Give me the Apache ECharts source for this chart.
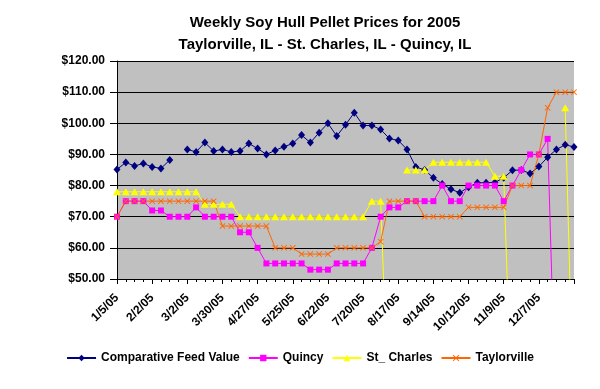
<!DOCTYPE html>
<html><head><meta charset="utf-8">
<script src="https://cdn.jsdelivr.net/npm/echarts@6/dist/echarts.min.js"></script>
<style>html,body{margin:0;padding:0;background:#fff}#c{width:600px;height:389px}</style>
</head><body><div id="c"></div>
<script>
const weeks = ['1/5/05','1/12/05','1/19/05','1/26/05','2/2/05','2/9/05','2/16/05','2/23/05',
  '3/2/05','3/9/05','3/16/05','3/23/05','3/30/05','4/6/05','4/13/05','4/20/05',
  '4/27/05','5/4/05','5/11/05','5/18/05','5/25/05','6/1/05','6/8/05','6/15/05',
  '6/22/05','6/29/05','7/6/05','7/13/05','7/20/05','7/27/05','8/3/05','8/10/05',
  '8/17/05','8/24/05','8/31/05','9/7/05','9/14/05','9/21/05','9/28/05','10/5/05',
  '10/12/05','10/19/05','10/26/05','11/2/05','11/9/05','11/16/05','11/23/05','11/30/05',
  '12/7/05','12/14/05','12/21/05','12/28/05','1/4/06'];

const comparativeFeedValue = [85.2,87.4,86.3,87.1,86.0,85.5,88.2,null,
  91.6,90.8,93.8,91.1,91.6,90.8,91.1,93.5,
  91.9,90.0,91.3,92.5,93.5,96.2,93.8,97.0,
  100.0,95.9,99.5,103.4,99.3,99.3,98.0,95.1,
  94.5,91.6,86.0,85.0,82.5,80.5,78.8,77.7,
  79.5,80.9,80.9,81.0,82.5,84.9,85.0,83.9,
  86.1,89.1,91.6,93.1,92.4];

const quincy = [70,75,75,75,72,72,70,70,
  70,73,70,70,70,70,65,65,
  60,55,55,55,55,55,53,53,
  53,55,55,55,55,60,70,73,
  73,75,75,75,75,80,75,75,
  80,80,80,80,75,80,85,90,
  90,95,0,null,null];

const stCharles = [78,78,78,78,78,78,78,78,
  78,78,74,74,74,74,70,70,
  70,70,70,70,70,70,70,70,
  70,70,70,70,70,75,75,0,
  null,85,85,85,87.5,87.5,87.5,87.5,
  87.5,87.5,87.5,83,83,0,null,null,
  null,null,null,105,0];

const taylorville = [70,75,75,75,75,75,75,75,
  75,75,75,75,67,67,67,67,
  67,67,60,60,60,58,58,58,
  58,60,60,60,60,60,62,75,
  75,75,75,70,70,70,70,70,
  73,73,73,73,73,80,80,80,
  90,105,110,110,110];

const seriesNames = ['Comparative Feed Value','Quincy','St_ Charles','Taylorville'];
const seriesData = [comparativeFeedValue, quincy, stCharles, taylorville];
const seriesColors = ['#000080','#FF00FF','#FFFF00','#FF6600'];
const seriesSymbols = ['diamond','rect','triangle',
  'path://M0,1L1,0L5,4L9,0L10,1L6,5L10,9L9,10L5,6L1,10L0,9L4,5Z'];
const seriesSymbolSizes = [[7,8],6,[8,7],6];

const font = "'Liberation Sans', Arial, sans-serif";
const chart = echarts.init(document.getElementById('c'), null, {renderer:'canvas'});

const series = seriesNames.map((name, k) => ({
  name: name,
  type: 'line',
  data: seriesData[k].map((v, i) => [i, v]),
  connectNulls: false,
  clip: true,
  symbol: seriesSymbols[k],
  symbolSize: seriesSymbolSizes[k],
  showSymbol: true,
  showAllSymbol: true,
  lineStyle: {color: seriesColors[k], width: 1},
  itemStyle: {color: seriesColors[k], borderWidth: 0},
  emphasis: {disabled: true},
  animation: false
}));

chart.setOption({
  animation: false,
  title: {
    text: 'Weekly Soy Hull Pellet Prices for 2005\nTaylorville, IL - St. Charles, IL - Quincy, IL',
    left: 320, top: 7, textAlign: 'center',
    textStyle: {fontFamily: font, fontSize: 15, fontWeight: 'bold', color: '#000', lineHeight: 22}
  },
  legend: {
    data: seriesNames,
    left: 'center', top: 347,
    itemWidth: 29, itemHeight: 8, itemGap: 8,
    textStyle: {fontFamily: font, fontSize: 12, fontWeight: 'bold', color: '#000'}
  },
  grid: {
    left: 117, top: 61, right: 26, bottom: 110,
    show: true, backgroundColor: '#C0C0C0', borderWidth: 0,
    containLabel: false
  },
  xAxis: {
    type: 'value', min: 0, max: weeks.length - 1, interval: 4,
    axisLine: {show: true, lineStyle: {color: '#000', width: 1}},
    axisTick: {show: true, length: 5, lineStyle: {color: '#000'}},
    minorTick: {show: true, splitNumber: 4, length: 3, lineStyle: {color: '#000'}},
    splitLine: {show: false},
    axisLabel: {
      rotate: 45, margin: 17, showMaxLabel: false,
      fontFamily: font, fontSize: 12, fontWeight: 'bold', color: '#000',
      formatter: v => (Number.isInteger(v) && v % 4 === 0 && v < weeks.length - 1) ? weeks[v] : ''
    }
  },
  yAxis: {
    type: 'value', min: 50, max: 120, interval: 10,
    axisLine: {show: true, lineStyle: {color: '#000', width: 1}},
    axisTick: {show: true, length: 7, lineStyle: {color: '#000'}},
    splitLine: {show: true, lineStyle: {color: '#000', width: 1}},
    axisLabel: {
      margin: 12, fontFamily: font, fontSize: 12, fontWeight: 'bold', color: '#000',
      formatter: v => '$' + v.toFixed(2)
    }
  },
  series: series
});
</script>
</body></html>
